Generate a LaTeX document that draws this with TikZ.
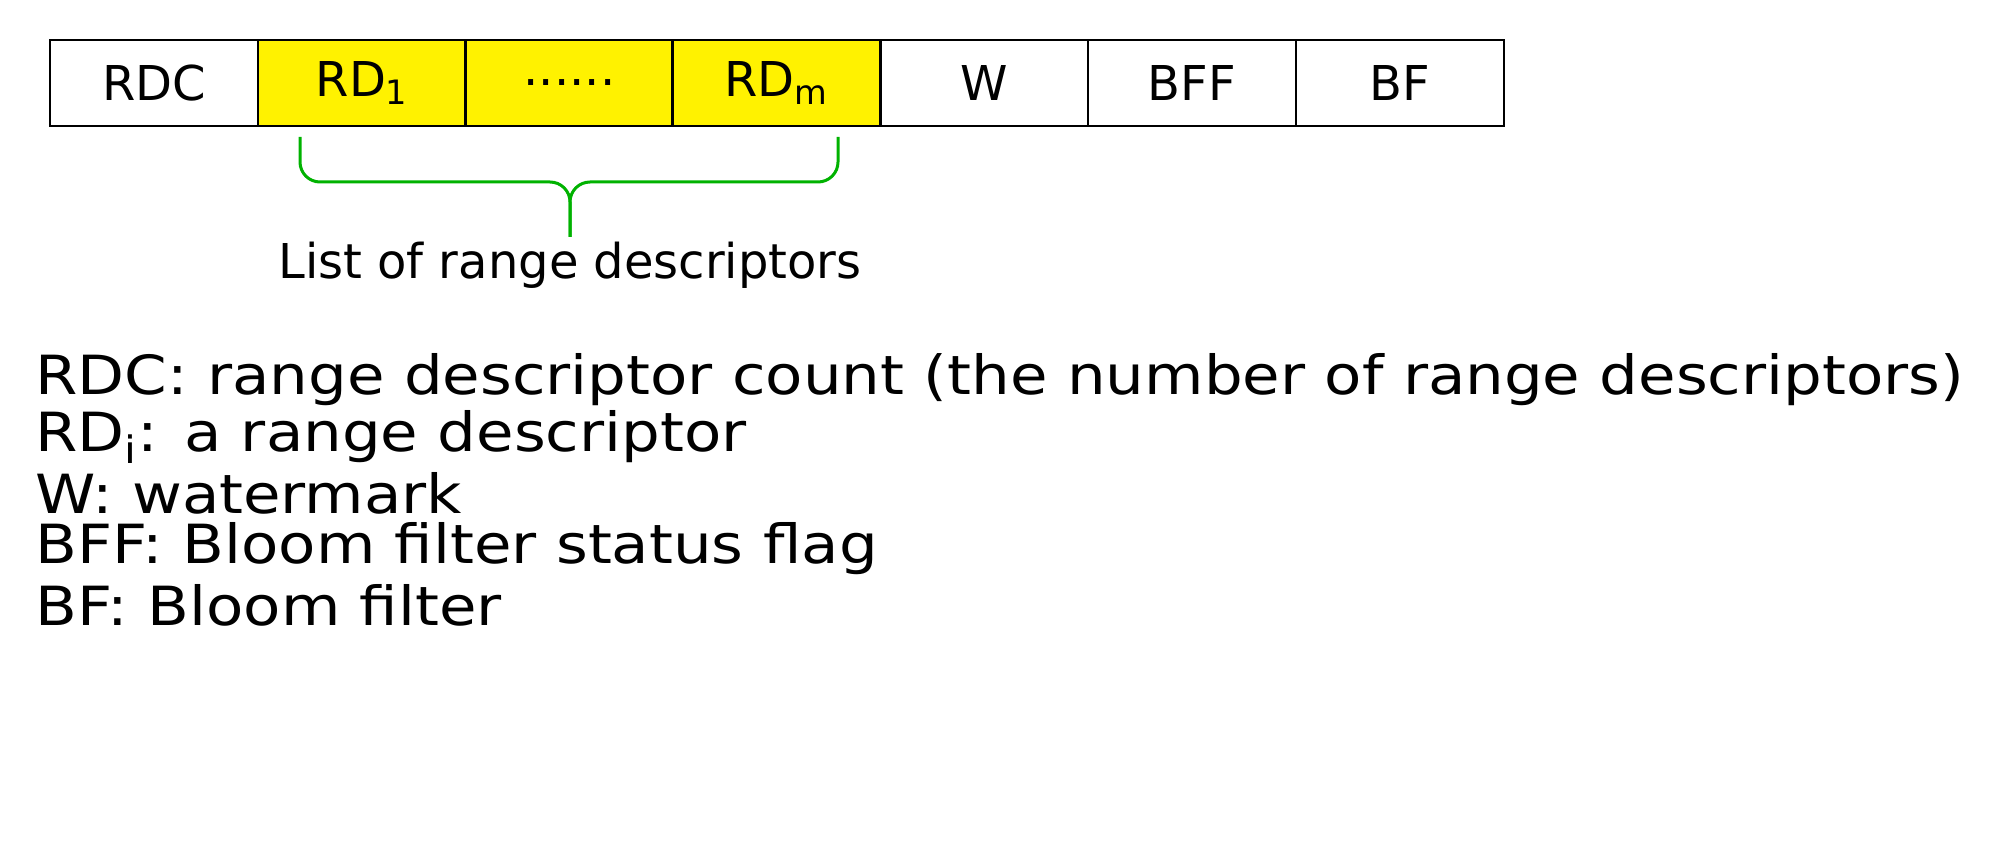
\documentclass[tikz,border=0pt]{standalone}
\usepackage{fontspec}
\setmainfont{DejaVu Sans}
\begin{document}
\begin{tikzpicture}[x=0.5pt,y=-0.5pt,
  cell/.style={draw,line width=1.2pt,minimum width=104pt,minimum height=43pt,inner sep=0pt,font=\fontsize{24}{28}\selectfont},
  ycell/.style={cell,fill=yellow},
  leg/.style={anchor=west,inner sep=0pt,font=\fontsize{27}{31}\selectfont}]
\useasboundingbox (0,0) rectangle (2000,865);
\node[cell] (rdc) at (154,83) {RDC};
\node[ycell] (rd1) at (362,83) {RD\textsubscript{1}};
\node[ycell] (dots) at (569.5,83) {......};
\node[ycell] (rdm) at (776.5,83) {RD\textsubscript{m}};
\node[cell] (w) at (984,83) {W};
\node[cell] (bff) at (1192,83) {BFF};
\node[cell] (bf) at (1400,83) {BF};
\coordinate (bl) at (300,137);
\coordinate (br) at (838,137);
\coordinate (tip) at (570,237);
\draw[green!70!black,line width=1.5pt,rounded corners=10pt] (bl) |- (570,182) -- (tip);
\draw[green!70!black,line width=1.5pt,rounded corners=10pt] (br) |- (570,182) -- (tip);
\node[inner sep=0pt,font=\fontsize{24}{28}\selectfont] (lab) at (570,265) {List of range descriptors};
\node[leg] (l1) at (35,380) {\scalebox{1.13}[1]{RDC: range descriptor count (the number of range descriptors)}};
\node[leg] (l2) at (35,437) {\scalebox{1.13}[1]{RD\textsubscript{i}: a range descriptor}};
\node[leg] (l3) at (35,493) {\scalebox{1.13}[1]{W: watermark}};
\node[leg] (l4) at (35,549) {\scalebox{1.13}[1]{BFF: Bloom filter status flag}};
\node[leg] (l5) at (35,605) {\scalebox{1.13}[1]{BF: Bloom filter}};
\end{tikzpicture}
\end{document}
